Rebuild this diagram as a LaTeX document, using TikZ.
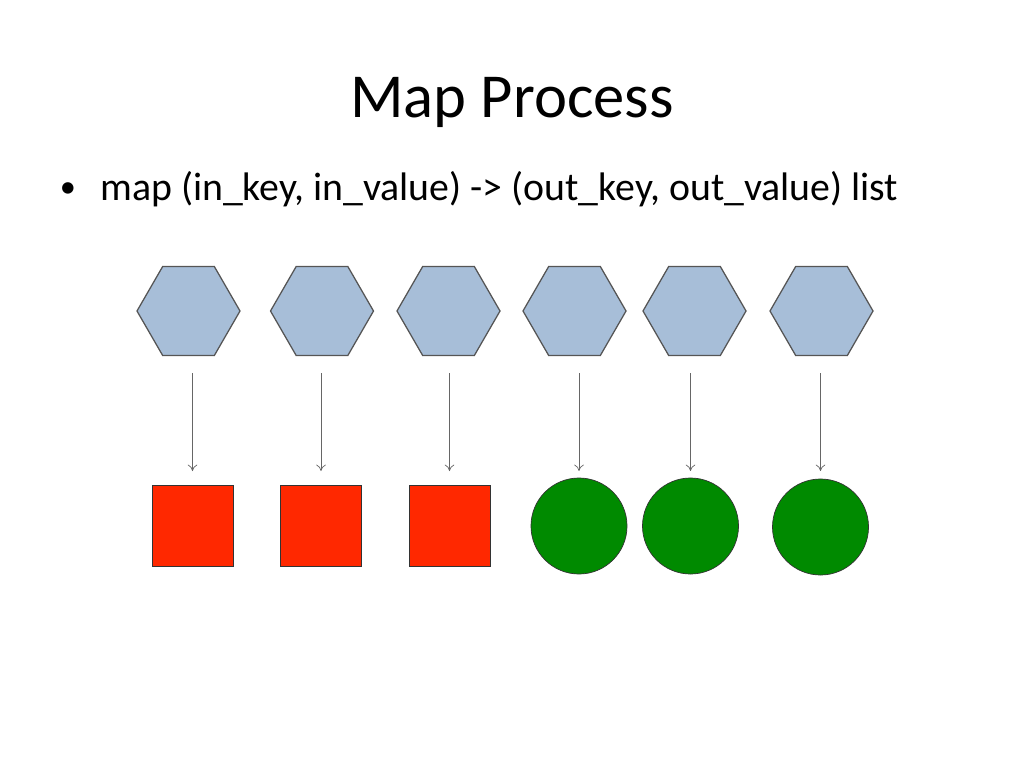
\documentclass[tikz,border=0pt]{standalone}
\usepackage{fontspec}
\setmainfont{Carlito}
\usetikzlibrary{arrows.meta,positioning,calc,shapes.geometric}
\definecolor{hexblue}{RGB}{167,190,216}
\definecolor{hexline}{RGB}{85,85,85}
\definecolor{outred}{RGB}{255,40,0}
\definecolor{outgreen}{RGB}{0,138,0}

\begin{document}
\begin{tikzpicture}[x=0.025cm, y=-0.025cm,
    inkey/.style={regular polygon, regular polygon sides=6, draw=hexline, line width=0.9pt,
      fill=hexblue, inner sep=0pt, minimum size=2.575cm},
    outsq/.style={rectangle, draw=black!80, line width=0.5pt, fill=outred, inner sep=0pt,
      minimum size=2.02cm},
    outci/.style={circle, draw=black!80, line width=0.5pt, fill=outgreen, inner sep=0pt,
      minimum size=2.4cm},
    flow/.style={draw=black!60, line width=0.5pt, -{To[length=1.6mm, width=2.4mm]}}]
    \useasboundingbox (0,0) rectangle (1024,768);

    % Title and bullet
    \node[font=\fontsize{44.5}{50}\selectfont, anchor=base] (title) at (512,118) {Map Process};
    \node[font=\fontsize{23}{28}\selectfont, anchor=base, inner sep=0pt] (bul) at (68,197.5) {•};
    \node[font=\fontsize{28.3}{34}\selectfont, anchor=base west, inner sep=0pt] (sig) at (100,200)
      {map (in\_key, in\_value) -> (out\_key, out\_value) list};

    % Input records
    \foreach \i/\x in {1/188.5, 2/322, 3/448.5, 4/574.5, 5/694.5, 6/821.5}
      \node[inkey] (h\i) at (\x,311) {};

    % Output records
    \node[outsq] (o1) at (192.5,526) {};
    \node[outsq] (o2) at (321,526) {};
    \node[outsq] (o3) at (449.5,526) {};
    \node[outci] (o4) at (579,526) {};
    \node[outci] (o5) at (690.5,526) {};
    \node[outci] (o6) at (820.5,527) {};

    % Map arrows
    \foreach \i in {1,...,6}
      \draw[flow] ($(h\i.south -| o\i.center)+(0,17)$) -- (o\i.center |- 0,471);
\end{tikzpicture}
\end{document}
